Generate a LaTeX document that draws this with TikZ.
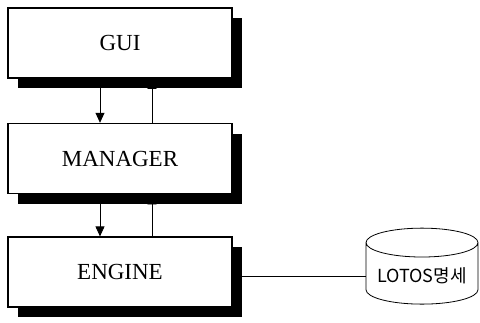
\documentclass[tikz,border=0pt]{standalone}
\usepackage{fontspec}
\setmainfont{Liberation Serif}
\newfontfamily\krfont{Noto Sans CJK KR}
\usepackage{tikz}
\usetikzlibrary{shapes.geometric, arrows.meta, positioning, shadows}

\begin{document}
\begin{tikzpicture}[x=1pt, y=1pt,
    block/.style={draw, line width=1.6pt, fill=white, minimum width=224pt, minimum height=70pt,
        font=\fontsize{23}{26}\selectfont,
        drop shadow={shadow xshift=10pt, shadow yshift=-10pt, fill=black, opacity=1}},
    link/.style={line width=0.8pt},
    store/.style={cylinder, shape border rotate=90, draw, line width=0.8pt, aspect=0.3,
        minimum width=112pt, minimum height=76pt, font=\krfont\fontsize{18}{20}\selectfont}]
    \useasboundingbox (0,0) rectangle (480,-322);

    % Layers
    \node[block] at (120,-43) (gui) {GUI};
    \node[block, below=44pt of gui] (manager) {MANAGER};
    \node[block, below=42pt of manager] (engine) {ENGINE};

    % Specification store
    \node[store] at (422,-276) (spec) {LOTOS명세};

    % Calls down, replies up
    \draw[link, -{Triangle[length=10pt, width=9pt]}] ([xshift=-20pt]gui.south) -- ([xshift=-20pt]manager.north);
    \draw[link, -{Triangle[length=10pt, width=9pt]}] ([xshift=32pt]manager.north) -- ([xshift=32pt]gui.south);
    \draw[link, -{Triangle[length=10pt, width=9pt]}] ([xshift=-20pt]manager.south) -- ([xshift=-20pt]engine.north);
    \draw[link, -{Triangle[length=10pt, width=9pt]}] ([xshift=32pt]engine.north) -- ([xshift=32pt]manager.south);
    \draw[link] (engine.east |- spec.west) -- (spec.west);
\end{tikzpicture}
\end{document}
